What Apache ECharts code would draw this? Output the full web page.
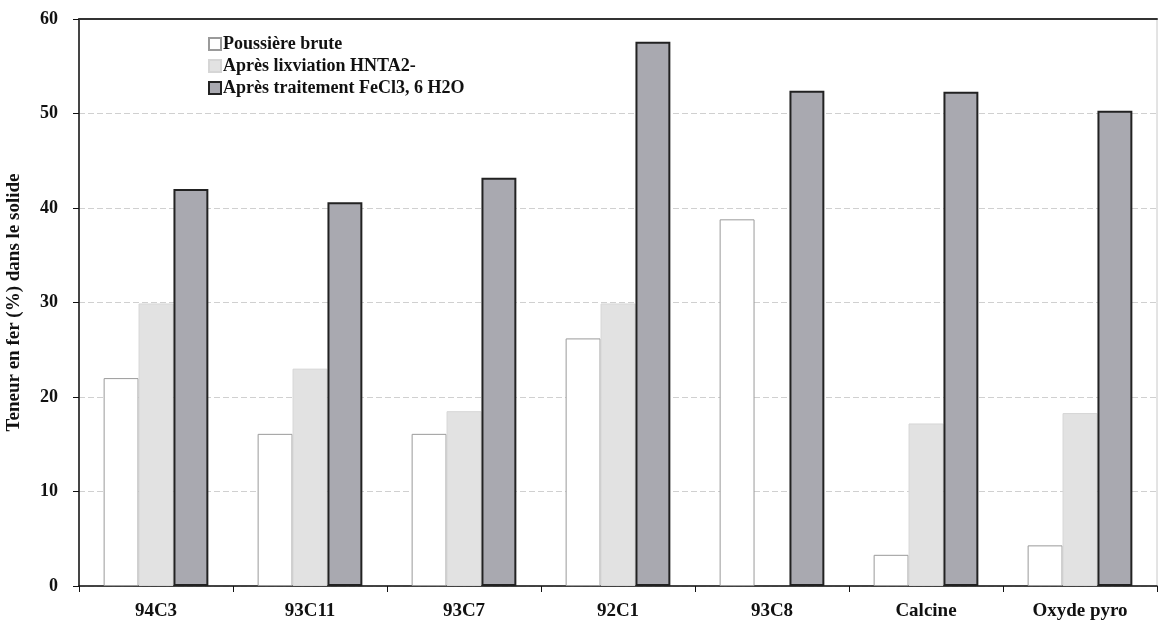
<!DOCTYPE html>
<html>
<head>
<meta charset="utf-8">
<script src="https://cdn.jsdelivr.net/npm/echarts@6/dist/echarts.min.js"></script>
<style>
  html, body { margin: 0; padding: 0; background: #fff; }
  #chart { width: 1161px; height: 627px; }
</style>
</head>
<body>
<div id="chart"></div>
<script>
//---------------------------Data---------------------------
let categories = ['94C3', '93C11', '93C7', '92C1', '93C8', 'Calcine', 'Oxyde pyro'];
let seriesNames = ['Poussière brute', 'Après lixviation HNTA2-', 'Après traitement FeCl3, 6 H2O'];
let brute = [22.0, 16.1, 16.1, 26.2, 38.8, 3.3, 4.3];
let lixviation = [29.9, 23.0, 18.5, 29.9, null, 17.2, 18.3];
let fecl3 = [42.0, 40.6, 43.2, 57.6, 52.4, 52.3, 50.3];
let yTicks = [0, 10, 20, 30, 40, 50, 60];

//---------------------------UI---------------------------
let chart = echarts.init(document.getElementById('chart'));
let serif = '"Liberation Serif", "DejaVu Serif", serif';

let option = {
    animation: false,
    backgroundColor: '#fff',
    textStyle: { fontFamily: serif },
    grid: {
        left: 79, right: 4, top: 19, bottom: 41,
        outerBoundsMode: 'none',
        containLabel: false,
        show: true, borderColor: '#c8c8c8', borderWidth: 1
    },
    legend: {
        orient: 'vertical',
        left: 203, top: 30,
        itemWidth: 12, itemHeight: 12, itemGap: 4,
        icon: 'rect',
        data: seriesNames,
        textStyle: { fontFamily: serif, fontWeight: 'bold', fontSize: 18, color: '#111', padding: [0, 0, 0, -3] }
    },
    xAxis: [{
        type: 'category',
        data: categories,
        axisLine: { lineStyle: { color: '#111', width: 1.5 } },
        axisTick: { show: true, alignWithLabel: false, length: 6, lineStyle: { color: '#111' } },
        axisLabel: { fontFamily: serif, fontWeight: 'bold', fontSize: 19, color: '#111', margin: 16 }
    }, {
        type: 'category',
        position: 'top',
        data: categories,
        axisLine: { lineStyle: { color: '#333', width: 2 } },
        axisTick: { show: false },
        axisLabel: { show: false }
    }],
    yAxis: {
        type: 'value',
        min: 0, max: 60, interval: 10,
        axisLine: { show: true, lineStyle: { color: '#111', width: 1.5 } },
        axisTick: { show: true, length: 6, lineStyle: { color: '#111' } },
        axisLabel: {
            fontFamily: serif, fontWeight: 'bold', fontSize: 18, color: '#111', margin: 21,
            formatter: function (v) { return yTicks.indexOf(v) >= 0 ? String(v) : ''; }
        },
        splitLine: { show: true, lineStyle: { color: '#d0d0d0', width: 1, type: [6, 3] } },
        name: 'Teneur en fer (%) dans le solide',
        nameLocation: 'middle',
        nameGap: 55,
        nameTextStyle: { fontFamily: serif, fontWeight: 'bold', fontSize: 19, color: '#111' }
    },
    series: [{
        name: seriesNames[0],
        type: 'bar',
        data: brute,
        barGap: '0%',
        barCategoryGap: '32%',
        itemStyle: { color: '#ffffff', borderColor: '#9a9a9a', borderWidth: 1 }
    }, {
        name: seriesNames[1],
        type: 'bar',
        data: lixviation,
        barGap: '0%',
        barCategoryGap: '32%',
        itemStyle: { color: '#e2e2e2', borderColor: '#d6d6d6', borderWidth: 1 }
    }, {
        name: seriesNames[2],
        type: 'bar',
        data: fecl3,
        barGap: '0%',
        barCategoryGap: '32%',
        itemStyle: { color: '#a9a9b0', borderColor: '#222', borderWidth: 2 }
    }]
};

chart.setOption(option);
</script>
</body>
</html>
